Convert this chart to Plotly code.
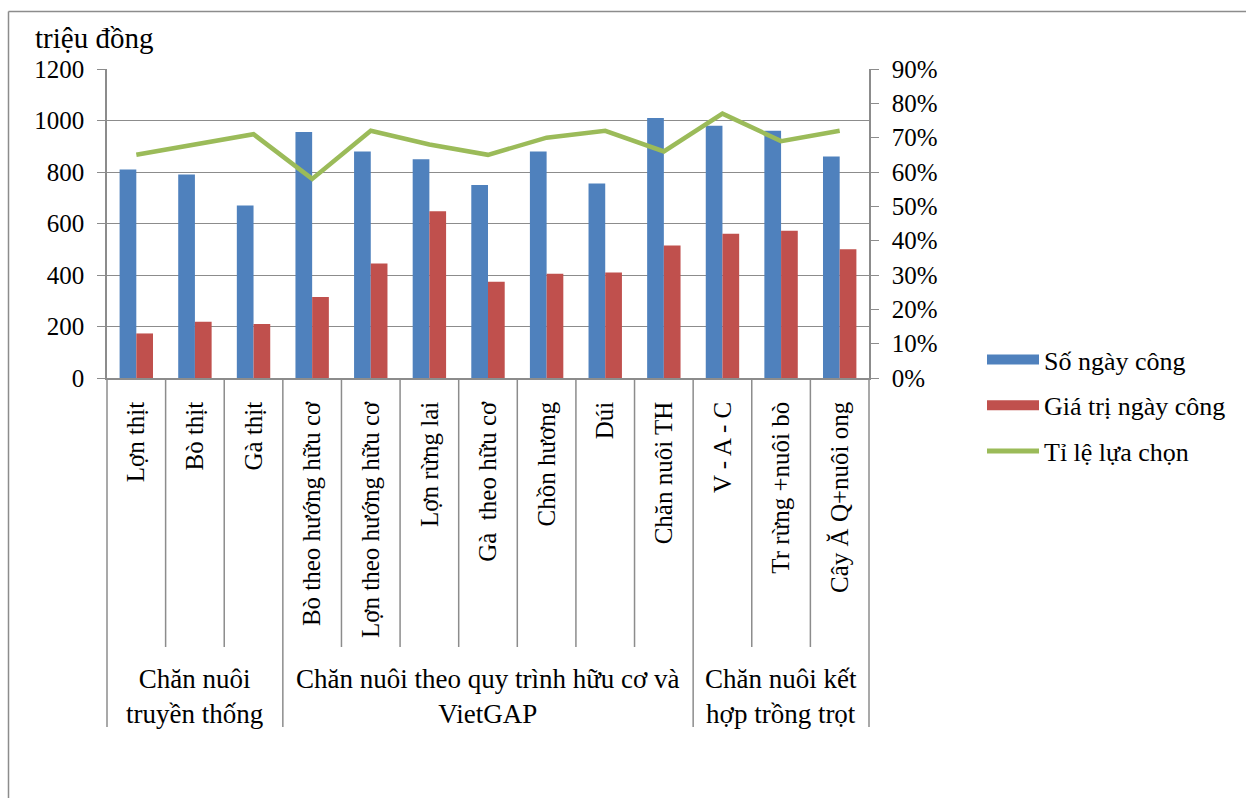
import plotly.graph_objects as go

# Categories (livestock models) and their groups
categories = [
    "Lợn thịt", "Bò thịt", "Gà thịt",
    "Bò theo hướng hữu cơ", "Lợn theo hướng hữu cơ", "Lợn rừng lai",
    "Gà  theo hữu cơ", "Chồn hương", "Dúi", "Chăn nuôi TH",
    "V - A - C", "Tr rừng +nuôi bò", "Cây Ă Q+nuôi ong",
]
group_labels = [
    "Chăn nuôi<br>truyền thống",
    "Chăn nuôi theo quy trình hữu cơ và<br>VietGAP",
    "Chăn nuôi kết<br>hợp trồng trọt",
]
group_sizes = [3, 7, 3]

# Series values
so_ngay_cong = [810, 790, 670, 955, 880, 850, 750, 880, 755, 1010, 980, 960, 860]
gia_tri_ngay_cong = [173, 218, 210, 315, 445, 648, 374, 405, 410, 515, 560, 572, 500]
ti_le_lua_chon = [0.65, 0.68, 0.71, 0.58, 0.72, 0.68, 0.65, 0.70, 0.72, 0.66, 0.77, 0.69, 0.72]

left_ticks = [0, 200, 400, 600, 800, 1000, 1200]
right_ticks = [0, 0.1, 0.2, 0.3, 0.4, 0.5, 0.6, 0.7, 0.8, 0.9]

BLUE = "#4F81BD"
RED = "#C0504D"
GREEN = "#9BBB59"
GRAY = "#8C8C8C"
FONT = "Liberation Serif"

W, H = 1246, 798
ML, MR, MT, MB = 107, 377, 69, 420
PW = W - ML - MR
PH = H - MT - MB


def px_x(x):
    return (x - ML) / PW


def px_y(y):
    return (H - MB - y) / PH


fig = go.Figure()

fig.add_trace(go.Bar(
    x=categories, y=so_ngay_cong, name="Số ngày công",
    marker=dict(color=BLUE, line=dict(width=0)), showlegend=False,
))
fig.add_trace(go.Bar(
    x=categories, y=gia_tri_ngay_cong, name="Giá trị ngày công",
    marker=dict(color=RED, line=dict(width=0)), showlegend=False,
))
fig.add_trace(go.Scatter(
    x=categories, y=ti_le_lua_chon, name="Tỉ lệ lựa chọn", yaxis="y2",
    mode="lines", line=dict(color=GREEN, width=4.5), showlegend=False,
))

# Legend entries drawn as wide colour swatches
for name, color, width in [("Số ngày công", BLUE, 13),
                           ("Giá trị ngày công", RED, 13),
                           ("Tỉ lệ lựa chọn", GREEN, 5)]:
    fig.add_trace(go.Scatter(
        x=[None], y=[None], name=name, mode="lines",
        line=dict(color=color, width=width), legendgroup=name,
    ))

n = len(categories)
shapes = []
# Category separators below the axis
bounds = [0]
for s in group_sizes:
    bounds.append(bounds[-1] + s)
for k in range(n + 1):
    low = -1.1294 if k in bounds else -0.8706
    shapes.append(dict(type="line", xref="paper", yref="paper",
                       x0=k / n, x1=k / n, y0=0, y1=low,
                       line=dict(color=GRAY, width=1.5)))
# Outer frame
shapes.append(dict(type="line", xref="paper", yref="paper",
                   x0=px_x(8.5), x1=px_x(1260), y0=px_y(11.5), y1=px_y(11.5),
                   line=dict(color=GRAY, width=1.5)))
shapes.append(dict(type="line", xref="paper", yref="paper",
                   x0=px_x(8.5), x1=px_x(8.5), y0=px_y(11.5), y1=px_y(810),
                   line=dict(color=GRAY, width=1.5)))

annotations = [dict(text="triệu đồng", xref="paper", yref="paper",
                    x=px_x(33), y=px_y(38), xanchor="left", yanchor="middle",
                    showarrow=False, font=dict(family=FONT, size=29, color="black"))]
start = 0
for label, s in zip(group_labels, group_sizes):
    annotations.append(dict(text=label, xref="paper", yref="paper",
                            x=(start + s / 2) / n, y=px_y(696),
                            xanchor="center", yanchor="middle", showarrow=False,
                            font=dict(family=FONT, size=27, color="black")))
    start += s

fig.update_layout(
    width=W, height=H,
    margin=dict(l=ML, r=MR, t=MT, b=MB, autoexpand=False),
    paper_bgcolor="white", plot_bgcolor="white",
    font=dict(family=FONT, size=26, color="black"),
    barmode="group", bargap=0.43, bargroupgap=0,
    xaxis=dict(
        type="category", range=[-0.5, n - 0.5], tickangle=-90,
        tickfont=dict(family=FONT, size=25, color="black"),
        showgrid=False, showline=True, linecolor=GRAY, linewidth=1.5,
        ticks="", ticklabelstandoff=12, automargin=False,
    ),
    yaxis=dict(
        range=[0, 1200], tickvals=left_ticks, showgrid=True, gridcolor=GRAY,
        gridwidth=1.2, zeroline=False, showline=True, linecolor=GRAY,
        linewidth=1.5, ticks="outside", ticklen=8, tickcolor=GRAY,
        tickfont=dict(family=FONT, size=25, color="black"),
        ticklabelstandoff=8, automargin=False,
    ),
    yaxis2=dict(
        range=[0, 0.9], tickvals=right_ticks, tickformat=".0%",
        overlaying="y", side="right", showgrid=False, zeroline=False,
        showline=True, linecolor=GRAY, linewidth=1.5, ticks="outside",
        ticklen=8, tickcolor=GRAY,
        tickfont=dict(family=FONT, size=25, color="black"),
        ticklabelstandoff=8, automargin=False,
    ),
    legend=dict(
        x=px_x(982), y=px_y(336), xanchor="left", yanchor="top",
        itemwidth=52, traceorder="grouped", tracegroupgap=9,
        font=dict(family=FONT, size=26, color="black"),
        bgcolor="rgba(0,0,0,0)",
    ),
    shapes=shapes, annotations=annotations,
)

fig.write_html("out.html")
